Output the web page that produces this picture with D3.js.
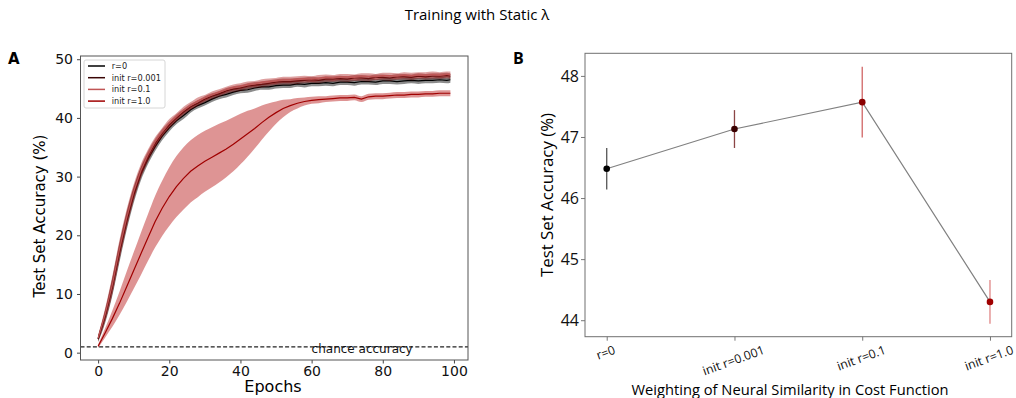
<!DOCTYPE html>
<html>
<head>
<meta charset="utf-8">
<script src="https://cdn.jsdelivr.net/npm/d3@7"></script>
<style>
  body { margin: 0; background: #fff; }
  svg { display: block; }
</style>
</head>
<body>
<div class="chart"></div>
<script>

var width = 1016,
  height = 398;

// panel A data (every 2 epochs)
var epochs = [0,2,4,6,8,10,12,14,16,18,20,22,24,26,28,30,32,34,36,38,40,42,44,46,48,50,52,54,56,58,60,62,64,66,68,70,72,74,76,78,80,82,84,86,88,90,92,94,96,98,99];

var seriesNames = ['r=0', 'init r=0.001', 'init r=0.1', 'init r=1.0'];

var accR0 = [2.3,6.2,11.2,17.0,22.3,26.8,30.4,33.0,35.1,36.9,38.3,39.5,40.4,41.4,42.1,42.6,43.2,43.7,44.0,44.4,44.7,44.8,45.1,45.3,45.3,45.5,45.6,45.6,45.8,45.7,45.9,45.9,46.0,45.9,46.1,46.1,46.0,46.2,46.2,46.1,46.3,46.3,46.2,46.3,46.4,46.3,46.4,46.4,46.5,46.4,46.5];
var accR0001 = [2.4,6.4,11.4,17.3,22.6,27.1,30.7,33.4,35.6,37.4,38.8,40.0,41.0,41.9,42.5,43.2,43.7,44.1,44.6,44.9,45.1,45.4,45.6,45.7,45.9,46.1,46.2,46.2,46.3,46.4,46.5,46.4,46.6,46.6,46.7,46.6,46.8,46.8,46.7,46.9,46.9,46.8,47.0,47.0,46.9,47.1,47.0,47.1,47.1,47.2,47.1];
var accR01 = [2.5,6.6,11.6,17.6,22.9,27.4,31.0,33.7,35.9,37.6,39.1,40.2,41.3,42.1,42.9,43.4,44.0,44.4,44.8,45.2,45.4,45.7,45.8,46.1,46.2,46.3,46.5,46.5,46.6,46.7,46.6,46.8,46.9,46.8,47.0,47.0,46.9,47.1,47.1,47.0,47.2,47.2,47.1,47.3,47.2,47.3,47.3,47.4,47.3,47.4,47.4];
var accR1 = [1.1,3.4,5.8,8.4,11.2,14.0,16.8,19.6,22.3,24.6,26.6,28.3,29.7,30.9,31.8,32.6,33.3,34.0,34.7,35.5,36.4,37.3,38.2,39.2,40.1,40.9,41.6,42.1,42.5,42.8,43.0,43.1,43.2,43.3,43.4,43.4,43.5,43.2,43.6,43.7,43.7,43.8,43.9,43.9,44.0,44.0,44.1,44.1,44.2,44.2,44.2];

var stdR0 = [0.5,1.1,1.5,1.6,1.5,1.3,1.1,0.9,0.8,0.7,0.6,0.6,0.6,0.5,0.5,0.5,0.5,0.5,0.5,0.5,0.5,0.5,0.5,0.5,0.5,0.5,0.5,0.5,0.5,0.5,0.5,0.5,0.5,0.5,0.5,0.5,0.5,0.5,0.5,0.5,0.5,0.5,0.5,0.5,0.5,0.5,0.5,0.5,0.5,0.5,0.5];
var stdR0001 = [0.5,1.0,1.4,1.5,1.4,1.2,1.0,0.9,0.8,0.7,0.6,0.6,0.5,0.5,0.5,0.5,0.5,0.5,0.5,0.5,0.5,0.5,0.5,0.5,0.5,0.5,0.5,0.5,0.5,0.5,0.5,0.5,0.5,0.5,0.5,0.5,0.5,0.5,0.5,0.5,0.5,0.5,0.5,0.5,0.5,0.5,0.5,0.5,0.5,0.5,0.5];
var stdR01 = [0.5,1.1,1.5,1.6,1.5,1.3,1.1,0.9,0.8,0.7,0.7,0.6,0.6,0.6,0.6,0.5,0.5,0.5,0.5,0.5,0.5,0.5,0.5,0.5,0.5,0.5,0.5,0.5,0.5,0.5,0.5,0.5,0.5,0.5,0.5,0.5,0.5,0.5,0.5,0.5,0.5,0.5,0.5,0.5,0.5,0.5,0.5,0.5,0.5,0.5,0.5];
var stdR1 = [0.3,0.8,1.4,2.0,2.6,3.1,3.6,4.0,4.4,4.7,5.0,5.2,5.3,5.3,5.3,5.2,5.1,5.0,4.8,4.6,4.3,3.9,3.4,2.9,2.4,1.9,1.5,1.1,0.9,0.7,0.6,0.6,0.5,0.5,0.5,0.5,0.5,0.5,0.5,0.5,0.5,0.5,0.5,0.5,0.5,0.5,0.5,0.5,0.5,0.5,0.5];

var chanceAcc = 1.0;
var xTicksA = [0, 20, 40, 60, 80, 100];
var yTicksA = [0, 10, 20, 30, 40, 50];

// panel B data
var categories = ['r=0', 'init r=0.001', 'init r=0.1', 'init r=1.0'];
var finalAcc = [46.48, 47.13, 47.57, 44.30];
var finalErr = [0.34, 0.31, 0.58, 0.36];
var yTicksB = [44, 45, 46, 47, 48];

// colours
var lineColors = ['#000000', '#3a0505', '#c05555', '#a00000'];
var bandColors = ['#000000', '#6a0000', '#b02020', '#b00000'];
var markerColors = ['#000000', '#3a0000', '#8b0000', '#a00000'];
var errColors = ['#555555', '#8b4545', '#d06565', '#e08585'];

var svg = d3.select('.chart')
  .append('svg')
  .attr('width', width)
  .attr('height', height);

// title
svg.append('text')
  .attr('x', 477)
  .attr('y', 20)
  .attr('text-anchor', 'middle')
  .style('font-family', 'Open Sans')
  .style('font-size', '15px')
  .text('Training with Static λ');

//PANEL A
var series = [
  {name: seriesNames[0], mean: accR0, std: stdR0},
  {name: seriesNames[1], mean: accR0001, std: stdR0001},
  {name: seriesNames[2], mean: accR01, std: stdR01},
  {name: seriesNames[3], mean: accR1, std: stdR1}
];

var xA = d3.scaleLinear().domain([-4.95, 103.95]).range([80.5, 468]);
var yA = d3.scaleLinear().domain([-1.25, 50.55]).range([360, 56]);

var gA = svg.append('g');

series.forEach(function(s, k) {
  var pts = epochs.map(function(e, i) { return {x: e, m: s.mean[i], sd: s.std[i]}; });

  var area = d3.area()
    .x(function(d) { return xA(d.x); })
    .y0(function(d) { return yA(d.m - d.sd); })
    .y1(function(d) { return yA(d.m + d.sd); })
    .curve(d3.curveMonotoneX);

  var line = d3.line()
    .x(function(d) { return xA(d.x); })
    .y(function(d) { return yA(d.m); });

  gA.append('path')
    .datum(pts)
    .attr('d', area)
    .attr('fill', bandColors[k])
    .attr('fill-opacity', k == 0 ? 0.45 : 0.42);

  gA.append('path')
    .datum(pts)
    .attr('d', line)
    .attr('fill', 'none')
    .attr('stroke', lineColors[k])
    .attr('stroke-width', 1.2);
});

// chance line
gA.append('line')
  .attr('x1', xA.range()[0])
  .attr('x2', xA.range()[1])
  .attr('y1', yA(chanceAcc))
  .attr('y2', yA(chanceAcc))
  .attr('stroke', '#222')
  .attr('stroke-width', 1.2)
  .attr('stroke-dasharray', '4,2.2');

gA.append('text')
  .attr('x', xA(60))
  .attr('y', yA(chanceAcc) + 6.5)
  .style('font-family', 'DejaVu Sans')
  .style('font-size', '12px')
  .attr('fill', '#111')
  .text('chance accuracy');

// axes A
var xAxisA = d3.axisBottom(xA).tickValues(xTicksA).tickSize(3.5).tickPadding(3).tickSizeOuter(0);
var yAxisA = d3.axisLeft(yA).tickValues(yTicksA).tickSize(3.5).tickPadding(4).tickSizeOuter(0);

var xAxisAG = svg.append('g')
  .attr('transform', 'translate(0,360)')
  .call(xAxisA);
var yAxisAG = svg.append('g')
  .attr('transform', 'translate(80.5,0)')
  .call(yAxisA);

[xAxisAG, yAxisAG].forEach(function(g) {
  g.select('.domain').remove();
  g.selectAll('line').attr('stroke', '#444');
  g.selectAll('text')
    .style('font-family', 'DejaVu Sans')
    .style('font-size', '14px')
    .attr('fill', '#111');
});

// frame A
svg.append('rect')
  .attr('x', 80.5)
  .attr('y', 56)
  .attr('width', 468 - 80.5)
  .attr('height', 360 - 56)
  .attr('fill', 'none')
  .attr('stroke', '#555')
  .attr('stroke-width', 1);

svg.append('text')
  .attr('x', 273)
  .attr('y', 392)
  .attr('text-anchor', 'middle')
  .style('font-family', 'DejaVu Sans')
  .style('font-size', '16px')
  .text('Epochs');

svg.append('text')
  .attr('transform', 'translate(45,216) rotate(-90)')
  .attr('text-anchor', 'middle')
  .style('font-family', 'DejaVu Sans')
  .style('font-size', '15px')
  .text('Test Set Accuracy (%)');

svg.append('text')
  .attr('x', 8)
  .attr('y', 64)
  .style('font-family', 'DejaVu Sans')
  .style('font-weight', 'bold')
  .style('font-size', '15px')
  .text('A');

// legend
var legend = svg.append('g').attr('transform', 'translate(84,60)');
legend.append('rect')
  .attr('width', 81)
  .attr('height', 48)
  .attr('rx', 2)
  .attr('fill', '#fff')
  .attr('fill-opacity', 0.85)
  .attr('stroke', '#d6d6d6');

seriesNames.forEach(function(n, k) {
  var yy = 6 + k * 11.7;
  legend.append('line')
    .attr('x1', 4).attr('x2', 21)
    .attr('y1', yy).attr('y2', yy)
    .attr('stroke', lineColors[k])
    .attr('stroke-width', 1.5);
  legend.append('text')
    .attr('x', 27.7)
    .attr('y', yy)
    .attr('dy', '0.35em')
    .style('font-family', 'DejaVu Sans')
    .style('font-size', '8.2px')
    .attr('fill', '#222')
    .text(n);
});

//PANEL B
var xB = d3.scaleLinear().domain([-0.17, 3.17]).range([585, 1011.7]);
var yB = d3.scaleLinear().domain([43.73, 48.37]).range([336.7, 53.3]);

var ptsB = categories.map(function(c, i) { return {i: i, m: finalAcc[i], e: finalErr[i]}; });

svg.append('path')
  .datum(ptsB)
  .attr('d', d3.line()
    .x(function(d) { return xB(d.i); })
    .y(function(d) { return yB(d.m); }))
  .attr('fill', 'none')
  .attr('stroke', '#808080')
  .attr('stroke-width', 1.2);

svg.selectAll('.errbar')
  .data(ptsB)
  .enter()
  .append('line')
  .attr('class', 'errbar')
  .attr('x1', function(d) { return xB(d.i); })
  .attr('x2', function(d) { return xB(d.i); })
  .attr('y1', function(d) { return yB(d.m - d.e); })
  .attr('y2', function(d) { return yB(d.m + d.e); })
  .attr('stroke', function(d) { return errColors[d.i]; })
  .attr('stroke-width', 1.3);

svg.selectAll('.dot')
  .data(ptsB)
  .enter()
  .append('circle')
  .attr('class', 'dot')
  .attr('cx', function(d) { return xB(d.i); })
  .attr('cy', function(d) { return yB(d.m); })
  .attr('r', 3.3)
  .style('fill', function(d) { return markerColors[d.i]; });

var yAxisB = d3.axisLeft(yB).tickValues(yTicksB).tickFormat(d3.format('d')).tickSize(4).tickPadding(2).tickSizeOuter(0);
var yAxisBG = svg.append('g')
  .attr('transform', 'translate(585,0)')
  .call(yAxisB);
yAxisBG.select('.domain').remove();
yAxisBG.selectAll('line').attr('stroke', '#777');
yAxisBG.selectAll('text')
  .style('font-family', 'Open Sans')
  .style('font-size', '16px')
  .attr('fill', '#111');

var xAxisB = d3.axisBottom(xB).tickValues([0, 1, 2, 3]).tickSize(4).tickFormat('').tickSizeOuter(0);
var xAxisBG = svg.append('g')
  .attr('transform', 'translate(0,336.7)')
  .call(xAxisB);
xAxisBG.select('.domain').remove();
xAxisBG.selectAll('line').attr('stroke', '#777');

// rotated category labels, centred on their ticks
categories.forEach(function(c, i) {
  var t = svg.append('text')
    .attr('text-anchor', 'middle')
    .attr('dy', '0.35em')
    .style('font-family', 'Open Sans')
    .style('font-size', '12.3px')
    .attr('fill', '#111')
    .text(c);
  var w = t.node().getComputedTextLength();
  var a = 20 * Math.PI / 180;
  var bh = w * Math.sin(a) + 14 * Math.cos(a);
  t.attr('transform', 'translate(' + (xB(i) - 1) + ',' + (336.7 + 6 + bh / 2) + ') rotate(-20)');
});

// frame B
svg.append('rect')
  .attr('x', 585)
  .attr('y', 53.3)
  .attr('width', 1011.7 - 585)
  .attr('height', 336.7 - 53.3)
  .attr('fill', 'none')
  .attr('stroke', '#707070')
  .attr('stroke-width', 1);

svg.append('text')
  .attr('x', 790)
  .attr('y', 395)
  .attr('text-anchor', 'middle')
  .attr('textLength', 317)
  .attr('lengthAdjust', 'spacingAndGlyphs')
  .style('font-family', 'Open Sans')
  .style('font-size', '15px')
  .text('Weighting of Neural Similarity in Cost Function');

svg.append('text')
  .attr('transform', 'translate(553,195) rotate(-90)')
  .attr('text-anchor', 'middle')
  .attr('textLength', 164)
  .attr('lengthAdjust', 'spacingAndGlyphs')
  .style('font-family', 'Open Sans')
  .style('font-size', '16px')
  .text('Test Set Accuracy (%)');

svg.append('text')
  .attr('x', 513)
  .attr('y', 64)
  .style('font-family', 'Open Sans')
  .style('font-weight', 'bold')
  .style('font-size', '16px')
  .text('B');

</script>
</body>
</html>
